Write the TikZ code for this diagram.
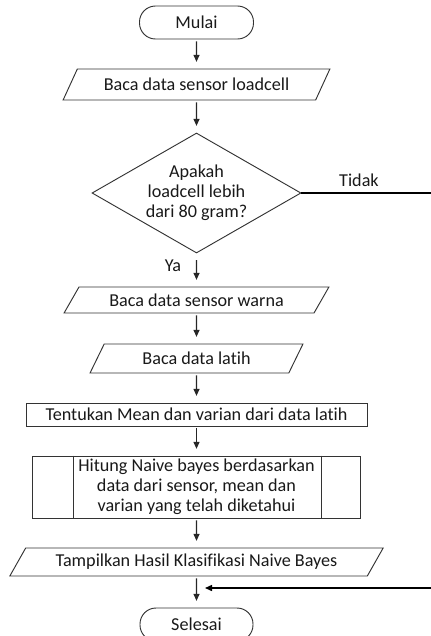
\documentclass[tikz,border=0pt]{standalone}
\usepackage{fontspec}
\setmainfont{Carlito}[Ligatures={NoCommon,NoContextual}]
\usetikzlibrary{arrows.meta,shapes.geometric}

\begin{document}
\begin{tikzpicture}[x=0.3mm,y=-0.3mm,line width=0.8pt,>={Triangle[length=2.1mm,width=1.8mm]},
  every node/.style={font=\fontsize{15.5}{17}\selectfont,text=black!90},
  terminal/.style={draw=black!80,rectangle,rounded corners=4.8mm,minimum width=34.2mm,minimum height=9.9mm},
  io/.style={draw=black!80,trapezium,trapezium left angle=55,trapezium right angle=125,trapezium stretches=true,inner sep=0.5mm},
  decision/.style={draw=black!80,diamond,aspect=1.74,inner sep=0pt,align=center},
  process/.style={draw=black!80,rectangle,inner sep=0.5mm},
  arr/.style={->,line width=1pt,black!85,shorten >=2mm,shorten <=0.6mm}]
  \useasboundingbox (0,0) rectangle (430,636);
  % ===================== simbol =====================
  % mulai
  \node[terminal] (mulai) at (196.5,22.5) {Mulai};
  % input loadcell
  \node[io,minimum width=80.1mm,minimum height=9.3mm] (loadcell) at (196.5,84.5) {Baca data sensor loadcell};
  % keputusan berat
  \node[decision,minimum width=62.7mm,minimum height=36mm] (cek) at (196.5,193) {Apakah\\loadcell lebih\\dari 80 gram?};
  % input warna
  \node[io,minimum width=79.5mm,minimum height=7.8mm] (warna) at (196.5,300) {Baca data sensor warna};
  % input data latih
  \node[io,trapezium left angle=62,trapezium right angle=118,minimum width=63.9mm,minimum height=8.7mm] (latih) at (196.5,358.5) {Baca data latih};
  % proses mean dan varian
  \node[process,minimum width=102.3mm,minimum height=6.9mm] (mean) at (196.5,414.5) {Tentukan Mean dan varian dari data latih};
  % subproses naive bayes
  \node[process,align=center,minimum width=98.4mm,minimum height=18.6mm] (hitung) at (196.5,487) {Hitung Naive bayes berdasarkan\\data dari sensor, mean dan\\varian yang telah diketahui};
  \draw[black!80] ([xshift=12.3mm]hitung.north west) -- ([xshift=12.3mm]hitung.south west);
  \draw[black!80] ([xshift=-12mm]hitung.north east) -- ([xshift=-12mm]hitung.south east);
  % output hasil
  \node[io,minimum width=112.2mm,minimum height=8.4mm] (tampil) at (196.5,562) {Tampilkan Hasil Klasifikasi Naive Bayes};
  % selesai
  \node[terminal,minimum width=33.9mm] (selesai) at (196.5,624.5) {Selesai};
  % ===================== alur =====================
  \draw[arr] (mulai) -- (loadcell);
  \draw[arr] (loadcell) -- (cek);
  \draw[arr,shorten <=2mm] (cek) -- (warna); \node (ya) at (173,266) {Ya};
  \draw[arr] (warna) -- (latih);
  \draw[arr] (latih) -- (mean);
  \draw[arr] (mean) -- (hitung);
  \draw[arr] (hitung) -- (tampil);
  \draw[arr] (tampil) -- (selesai);
  % cabang tidak
  \coordinate (tepi) at (437,193);
  \coordinate (gabung) at (205,588);
  \draw[->,line width=1.2pt,black] (cek.east) -- (tepi) |- (gabung); \node (tidak) at (359,180) {Tidak};
\end{tikzpicture}
\end{document}
